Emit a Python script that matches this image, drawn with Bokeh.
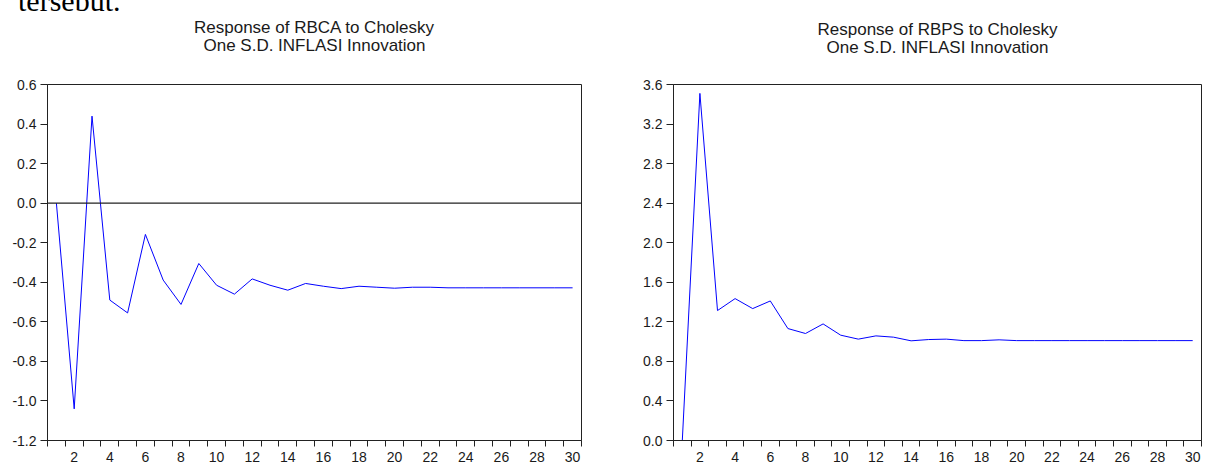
from bokeh.plotting import figure
from bokeh.models import FixedTicker, PrintfTickFormatter, Span, Range1d, Title, Div
from bokeh.layouts import row, column
from bokeh.embed import file_html
from bokeh.resources import INLINE

# ---- data ----
periods = list(range(1, 31))
rbca = [0.0, -1.04, 0.44, -0.49, -0.555, -0.158, -0.389, -0.512, -0.305, -0.415,
        -0.46, -0.383, -0.415, -0.44, -0.406, -0.42, -0.432, -0.42, -0.425, -0.43,
        -0.425, -0.425, -0.428, -0.428, -0.428, -0.428, -0.428, -0.428, -0.428, -0.428]
rbps = [0.0, 3.51, 1.314, 1.435, 1.334, 1.411, 1.132, 1.082, 1.179, 1.065,
        1.025, 1.058, 1.045, 1.008, 1.021, 1.025, 1.01, 1.01, 1.018, 1.01,
        1.01, 1.01, 1.01, 1.01, 1.01, 1.01, 1.01, 1.01, 1.01, 1.01]
x_labels = [2, 4, 6, 8, 10, 12, 14, 16, 18, 20, 22, 24, 26, 28, 30]
x_boundaries = [0.5 + i for i in range(31)]
rbca_yticks = [-1.2, -1.0, -0.8, -0.6, -0.4, -0.2, 0.0, 0.2, 0.4, 0.6]
rbps_yticks = [0.0, 0.4, 0.8, 1.2, 1.6, 2.0, 2.4, 2.8, 3.2, 3.6]
title_rbca = ["Response of RBCA to Cholesky", "One S.D. INFLASI Innovation"]
title_rbps = ["Response of RBPS to Cholesky", "One S.D. INFLASI Innovation"]
page_text = "tersebut."

FONT = "Liberation Sans"
TXT = "#1a1a1a"
AX = "#222222"
TOP_STRIP = 14


def title_line(text, standoff):
    return Title(text=text, align="center", vertical_align="top",
                 text_font=FONT, text_font_size="17px", text_font_style="normal",
                 text_color=TXT, standoff=standoff)


def make(values, yticks, ylo, yhi, titles, width, bl, br, bt, gap):
    p = figure(width=width, height=464 - TOP_STRIP, output_backend="svg",
               toolbar_location=None, title=None,
               x_range=Range1d(0.5, 30.5), y_range=Range1d(ylo, yhi),
               min_border_left=bl, min_border_right=br, min_border_top=bt - TOP_STRIP,
               min_border_bottom=0, background_fill_color="white",
               border_fill_color="white", outline_line_color=AX, outline_line_width=1)
    p.grid.visible = False
    p.line(periods, values, line_color="#0000ff", line_width=1)

    # panels stack outward from the frame: blank spacer, second line, first line
    p.add_layout(title_line(" ", gap), "above")
    p.add_layout(title_line(titles[1], -6), "above")
    p.add_layout(title_line(titles[0], 0), "above")

    xa = p.xaxis[0]
    xa.ticker = FixedTicker(ticks=x_labels, minor_ticks=x_boundaries)
    xa.major_tick_out = 0
    xa.major_tick_in = 0
    xa.minor_tick_out = 6
    xa.minor_tick_in = 0
    xa.minor_tick_line_color = AX
    xa.axis_line_color = AX
    xa.major_label_standoff = 5
    xa.major_label_text_font = FONT
    xa.major_label_text_font_size = "14px"
    xa.major_label_text_color = TXT

    ya = p.yaxis[0]
    ya.ticker = FixedTicker(ticks=yticks, minor_ticks=[])
    ya.formatter = PrintfTickFormatter(format="%.1f")
    ya.major_tick_out = 7
    ya.major_tick_in = 0
    ya.minor_tick_out = 0
    ya.minor_tick_in = 0
    ya.major_tick_line_color = AX
    ya.axis_line_color = AX
    ya.major_label_standoff = 4
    ya.major_label_text_font = FONT
    ya.major_label_text_font_size = "14px"
    ya.major_label_text_color = TXT

    return p


left = make(rbca, rbca_yticks, -1.2, 0.6, title_rbca, 606, 47, 25, 84, 10)
right = make(rbps, rbps_yticks, 0.0, 3.6, title_rbps, 606, 67, 11, 82, 8)

left.add_layout(Span(location=0.0, dimension="width", line_color=AX, line_width=1.2))

# partial line of the surrounding document text, cut at the top edge
strip = Div(
    text=('<div style="font-family:\'Liberation Serif\';font-size:30px;line-height:34px;'
          'position:relative;top:-16px;left:18px;color:black;white-space:nowrap">'
          + page_text + '</div>'),
    width=1212, height=TOP_STRIP, margin=0, styles={"overflow": "hidden"})

layout = column(strip, row(left, right), spacing=0)
open("out.html", "w").write(file_html(layout, INLINE))
